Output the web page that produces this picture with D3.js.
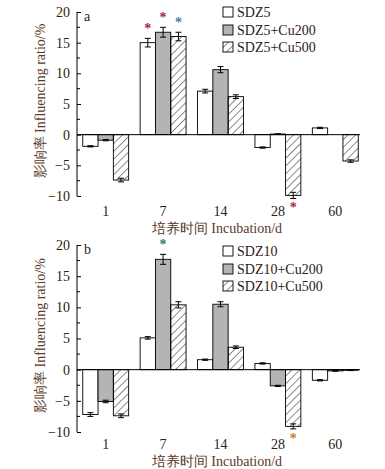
<!DOCTYPE html>
<html>
<head>
<meta charset="utf-8">
<script src="https://cdn.jsdelivr.net/npm/d3@7"></script>
<style>
body { margin: 0; background: #fff; }
text { font-family: "Liberation Serif", "Times New Roman", serif; }
</style>
</head>
<body>
<div id="chart"></div>
<script>
// incubation days
var days = ["1", "7", "14", "28", "60"];

// panel a, SDZ5
var seriesA = ["SDZ5", "SDZ5+Cu200", "SDZ5+Cu500"];
var sdz5 = [-1.9, 15.0, 7.1, -2.1, 1.1];
var sdz5Err = [0.1, 0.7, 0.3, 0.1, 0.1];
var sdz5Cu200 = [-0.9, 16.7, 10.6, 0.1, 0.0];
var sdz5Cu200Err = [0.1, 0.8, 0.5, 0.05, 0.0];
var sdz5Cu500 = [-7.4, 16.0, 6.2, -9.9, -4.3];
var sdz5Cu500Err = [0.3, 0.7, 0.3, 0.5, 0.2];
// significance stars: [day index, series index, color]
var starsA = [[1, 0, "#9b2c4a"], [1, 1, "#9b2c4a"], [1, 2, "#3a7fc0"], [3, 2, "#a8303c"]];

// panel b, SDZ10
var seriesB = ["SDZ10", "SDZ10+Cu200", "SDZ10+Cu500"];
var sdz10 = [-7.2, 5.1, 1.6, 1.0, -1.7];
var sdz10Err = [0.3, 0.2, 0.1, 0.1, 0.1];
var sdz10Cu200 = [-5.1, 17.7, 10.5, -2.6, -0.2];
var sdz10Cu200Err = [0.2, 0.8, 0.4, 0.1, 0.05];
var sdz10Cu500 = [-7.4, 10.4, 3.6, -9.1, -0.1];
var sdz10Cu500Err = [0.3, 0.5, 0.2, 0.4, 0.05];
var starsB = [[1, 1, "#2f7f6f"], [3, 2, "#d07a2a"]];

var yTicks = [-10, -5, 0, 5, 10, 15, 20];

var W = 385, H = 469;
var svg = d3.select("#chart").append("svg")
	.attr("width", W)
	.attr("height", H);

var defs = svg.append("defs");
defs.append("pattern")
	.attr("id", "hatch")
	.attr("patternUnits", "userSpaceOnUse")
	.attr("width", 5.5)
	.attr("height", 5.5)
	.attr("patternTransform", "rotate(45)")
	.append("line")
	.attr("x1", 0).attr("y1", 0)
	.attr("x2", 0).attr("y2", 5.5)
	.attr("stroke", "#000")
	.attr("stroke-width", 0.9);

var fills = ["#fff", "#b4b4b4", "url(#hatch)"];
var textColor = "#2e2018";
var titleColor = "#5a3a2a";

var x = d3.scaleBand()
	.domain(days)
	.range([77, 364])
	.paddingInner(0.2)
	.paddingOuter(0.1);

function panel(opts) {
	var y = d3.scaleLinear().domain([-10, 20]).range([opts.bottom, opts.top]);
	var g = svg.append("g");

	var xs = d3.scaleBand()
		.domain([0, 1, 2])
		.range([0, x.bandwidth()]);

	// bars
	opts.values.forEach(function(vals, si) {
		g.selectAll(".bar" + si)
			.data(vals)
			.enter().append("rect")
			.attr("x", function(d, i) { return x(days[i]) + xs(si); })
			.attr("y", function(d) { return y(Math.max(0, d)); })
			.attr("width", xs.bandwidth())
			.attr("height", function(d) { return Math.abs(y(d) - y(0)); })
			.attr("fill", fills[si])
			.attr("stroke", "#000")
			.attr("stroke-width", 0.9);

		// error bars
		var errs = opts.errors[si];
		g.selectAll(".err" + si)
			.data(vals)
			.enter().append("g")
			.attr("transform", function(d, i) {
				return "translate(" + (x(days[i]) + xs(si) + xs.bandwidth() / 2) + ",0)";
			})
			.each(function(d, i) {
				var e = errs[i];
				if (e <= 0) return;
				var sel = d3.select(this);
				var y1 = y(d - e), y2 = y(d + e);
				sel.append("line").attr("x1", 0).attr("x2", 0).attr("y1", y1).attr("y2", y2);
				sel.append("line").attr("x1", -3).attr("x2", 3).attr("y1", y1).attr("y2", y1);
				sel.append("line").attr("x1", -3).attr("x2", 3).attr("y1", y2).attr("y2", y2);
				sel.selectAll("line").attr("stroke", "#000").attr("stroke-width", 1);
			});
	});

	// zero line
	g.append("line")
		.attr("x1", 77).attr("x2", 360)
		.attr("y1", y(0)).attr("y2", y(0))
		.attr("stroke", "#000")
		.attr("stroke-width", 1);

	// stars
	opts.stars.forEach(function(s) {
		var v = opts.values[s[1]][s[0]];
		var e = opts.errors[s[1]][s[0]];
		var cx = x(days[s[0]]) + xs(s[1]) + xs.bandwidth() / 2;
		var cy = v >= 0 ? y(v + e) - 5 : y(v - e) + 14;
		g.append("text")
			.attr("x", cx)
			.attr("y", cy)
			.attr("text-anchor", "middle")
			.attr("font-size", 14)
			.attr("font-weight", "bold")
			.attr("fill", s[2])
			.text("*");
	});

	// y axis, ticks inward
	var yAxis = d3.axisLeft(y)
		.tickValues(yTicks)
		.tickSize(-4)
		.tickPadding(7)
		.tickFormat(function(d) { return d < 0 ? "\u2212" + Math.abs(d) : d; });
	var ax = g.append("g")
		.attr("transform", "translate(77,0)")
		.call(yAxis);
	ax.select(".domain").attr("d", "M0," + y(-10) + "V" + y(20));
	ax.selectAll("text")
		.attr("font-size", 14)
		.attr("fill", textColor)
		.style("font-family", "'Liberation Serif', serif");
	// minor ticks
	ax.selectAll(".minor")
		.data(d3.range(-7.5, 20, 5))
		.enter().append("line")
		.attr("x1", 0).attr("x2", 3)
		.attr("y1", function(d) { return y(d); })
		.attr("y2", function(d) { return y(d); })
		.attr("stroke", "#000");

	// day labels
	g.selectAll(".day")
		.data(days)
		.enter().append("text")
		.attr("x", function(d) { return x(d) + x.bandwidth() / 2; })
		.attr("y", opts.dayY)
		.attr("text-anchor", "middle")
		.attr("font-size", 14)
		.attr("fill", textColor)
		.text(function(d) { return d; });

	// x title
	g.append("text")
		.attr("x", 217)
		.attr("y", opts.dayY + 17)
		.attr("text-anchor", "middle")
		.attr("font-size", 14)
		.attr("fill", titleColor)
		.text("培养时间 Incubation/d");

	// y title
	g.append("text")
		.attr("transform", "translate(45," + ((opts.top + opts.bottom) / 2 - 3) + ") rotate(-90)")
		.attr("text-anchor", "middle")
		.attr("font-size", 14)
		.attr("fill", titleColor)
		.text("影响率 Influencing ratio/%");

	// panel letter
	g.append("text")
		.attr("x", 84)
		.attr("y", opts.top + 9)
		.attr("font-size", 14)
		.attr("fill", textColor)
		.text(opts.letter);

	// legend
	var lg = g.selectAll(".leg")
		.data(opts.names)
		.enter().append("g")
		.attr("transform", function(d, i) { return "translate(223," + opts.legendY[i] + ")"; });
	lg.append("rect")
		.attr("x", 0).attr("y", -5)
		.attr("width", 10).attr("height", 10)
		.attr("fill", function(d, i) { return fills[i]; })
		.attr("stroke", "#000")
		.attr("stroke-width", 0.9);
	lg.append("text")
		.attr("x", 14)
		.attr("y", 5)
		.attr("font-size", 14)
		.attr("fill", textColor)
		.text(function(d) { return d; });
}

panel({
	top: 12, bottom: 196, letter: "a", dayY: 216,
	names: seriesA,
	values: [sdz5, sdz5Cu200, sdz5Cu500],
	errors: [sdz5Err, sdz5Cu200Err, sdz5Cu500Err],
	stars: starsA,
	legendY: [12, 30, 47]
});

panel({
	top: 245, bottom: 432, letter: "b", dayY: 449,
	names: seriesB,
	values: [sdz10, sdz10Cu200, sdz10Cu500],
	errors: [sdz10Err, sdz10Cu200Err, sdz10Cu500Err],
	stars: starsB,
	legendY: [251, 269, 286]
});
</script>
</body>
</html>
